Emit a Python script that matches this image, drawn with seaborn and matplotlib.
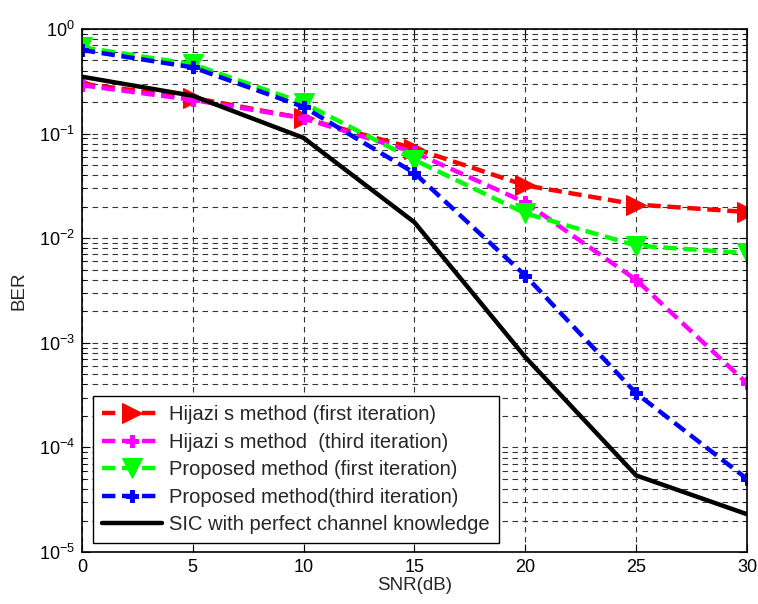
import numpy as np
import pandas as pd
import matplotlib
matplotlib.use("Agg")
import matplotlib.pyplot as plt
import seaborn as sns
from matplotlib.ticker import LogLocator, FixedLocator, NullFormatter

snr = [0, 5, 10, 15, 20, 25, 30]
hijazi_first = [0.30, 0.22, 0.14, 0.072, 0.032, 0.021, 0.0178]
hijazi_third = [0.29, 0.21, 0.14, 0.066, 0.022, 0.0040, 0.00041]
proposed_first = [0.67, 0.46, 0.196, 0.056, 0.0173, 0.0085, 0.0072]
proposed_third = [0.63, 0.43, 0.18, 0.042, 0.0044, 0.00033, 0.000050]
sic_perfect = [0.35, 0.23, 0.091, 0.0142, 0.00073, 0.000054, 0.000023]

labels = ["Hijazi s method (first iteration)",
          "Hijazi s method  (third iteration)",
          "Proposed method (first iteration)",
          "Proposed method(third iteration)",
          "SIC with perfect channel knowledge"]
series = [hijazi_first, hijazi_third, proposed_first, proposed_third, sic_perfect]

sns.set_style("white")
plt.rcParams['font.family'] = ['Liberation Sans', 'DejaVu Sans']
plt.rcParams['mathtext.fontset'] = 'custom'
plt.rcParams['mathtext.rm'] = 'Liberation Sans'
plt.rcParams['mathtext.it'] = 'Liberation Sans'
plt.rcParams['mathtext.default'] = 'regular'

fig = plt.figure(figsize=(7.58, 6.04), dpi=100)
ax = fig.add_axes([0.108, 0.086, 0.8775, 0.866])

styles = [
    dict(color='#ff0000', marker='>', markersize=14, ls=(0, (3, 1.5))),
    dict(color='#ff00ff', marker='P', markersize=9, ls=(0, (3, 1.5))),
    dict(color='#00ff00', marker='v', markersize=14, ls=(0, (3, 1.5))),
    dict(color='#0000ff', marker='P', markersize=9, ls=(0, (3, 1.5))),
    dict(color='#000000', marker=None, markersize=0, ls='-'),
]

for lab, vals, st in zip(labels, series, styles):
    df = pd.DataFrame({"SNR": snr, "BER": vals})
    sns.lineplot(data=df, x="SNR", y="BER", ax=ax, label=lab, color=st['color'],
                 marker=st['marker'], markersize=st['markersize'], linewidth=3.2,
                 markeredgecolor=st['color'], linestyle=st['ls'])

ax.set_yscale('log')
ax.set_xlim(0, 30)
ax.set_ylim(1e-5, 1)
ax.xaxis.set_major_locator(FixedLocator(snr))
ax.yaxis.set_major_locator(LogLocator(base=10, numticks=10))
ax.yaxis.set_minor_locator(LogLocator(base=10, subs=np.arange(2, 10), numticks=20))
ax.yaxis.set_minor_formatter(NullFormatter())

ax.grid(True, which='major', axis='both', color='#333333', linestyle=(0, (5, 4)), linewidth=0.8)
ax.grid(True, which='minor', axis='y', color='#333333', linestyle=(0, (5, 4)), linewidth=0.8)
ax.set_axisbelow(True)

for sp in ax.spines.values():
    sp.set_color('black')
    sp.set_linewidth(1.2)
ax.tick_params(which='both', direction='in', top=True, right=True, left=True, bottom=True,
               labelsize=13, colors='black')
ax.tick_params(which='major', length=6, pad=5)
ax.tick_params(which='minor', length=3)

ax.set_xlabel("SNR(dB)", fontsize=13.5, labelpad=1)
ax.set_ylabel("BER", fontsize=13.5, labelpad=8)

leg = ax.legend(loc='lower left', bbox_to_anchor=(0.0165, 0.017), fontsize=14.5,
                frameon=True, fancybox=False, edgecolor='black', framealpha=1,
                handlelength=3.0, borderpad=0.45, labelspacing=0.42, handletextpad=0.35,
                borderaxespad=0)
leg.get_frame().set_linewidth(1.0)

fig.savefig("out.png", dpi=100)
